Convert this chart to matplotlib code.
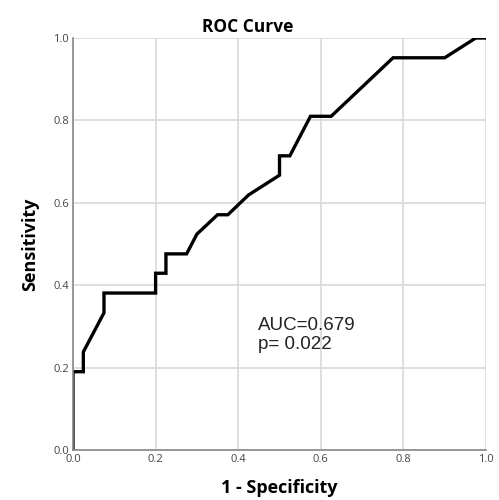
import matplotlib
matplotlib.use("Agg")
import matplotlib.pyplot as plt

# ROC curve points
fpr = [0.0, 0.0, 0.025, 0.025, 0.075, 0.075, 0.2, 0.2, 0.225, 0.225, 0.275,
       0.3, 0.35, 0.375, 0.425, 0.5, 0.5, 0.525, 0.575, 0.625, 0.775, 0.9,
       0.975, 1.0]
tpr = [0.0, 0.190, 0.190, 0.238, 0.333, 0.381, 0.381, 0.429, 0.429, 0.476,
       0.476, 0.524, 0.571, 0.571, 0.619, 0.667, 0.714, 0.714, 0.810, 0.810,
       0.952, 0.952, 1.0, 1.0]
ticks = [0.0, 0.2, 0.4, 0.6, 0.8, 1.0]
tick_labels = ["0.0", "0.2", "0.4", "0.6", "0.8", "1.0"]
auc_text = "AUC=0.679\np= 0.022"

fig = plt.figure(figsize=(4.99, 5.0), dpi=100)
ax = fig.add_axes([0.1463, 0.1, 0.8277, 0.824])

ax.plot(fpr, tpr, color="black", linewidth=2.4, solid_joinstyle="miter")

ax.set_xlim(0, 1)
ax.set_ylim(0, 1)
ax.set_xticks(ticks)
ax.set_yticks(ticks)
ax.set_xticklabels(tick_labels, fontsize=8, color="#444444", family="Open Sans")
ax.set_yticklabels(tick_labels, fontsize=8, color="#444444", family="Open Sans")
ax.tick_params(length=0, pad=3)
ax.grid(True, color="#d9d9d9", linewidth=1.2)
ax.set_axisbelow(True)

for s in ["top", "right"]:
    ax.spines[s].set_visible(False)
for s in ["left", "bottom"]:
    ax.spines[s].set_color("#888888")
    ax.spines[s].set_linewidth(1.2)

ax.text(0.448, 0.279, auc_text, fontsize=13.5, family="Liberation Sans",
        color="#222222", va="center", ha="left", linespacing=1.1)

ax.set_xlabel("1 - Specificity", fontsize=13, fontweight="bold",
              family="Open Sans", labelpad=10)
ax.set_ylabel("Sensitivity", fontsize=13, fontweight="bold",
              family="Open Sans", labelpad=10)
fig.text(0.497, 0.947, "ROC Curve", fontsize=12.5, fontweight="bold",
         family="Open Sans", ha="center", va="center")

fig.savefig("out.png", dpi=100)
